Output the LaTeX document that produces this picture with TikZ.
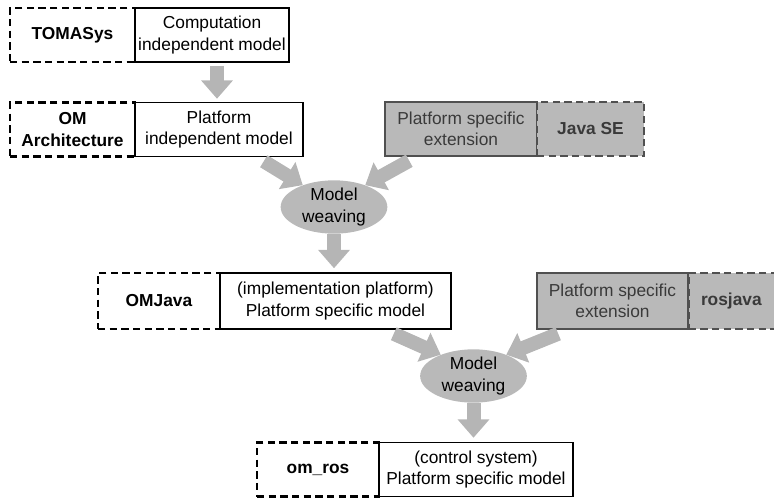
\documentclass[tikz,border=0pt]{standalone}
\usepackage{fontspec}
\setmainfont{Liberation Sans}
\usepackage{xcolor}
\usepackage{tikz}
\usetikzlibrary{calc, arrows.meta, positioning, shapes}

\definecolor{weavegray}{HTML}{B9B9B9}
\definecolor{flowgray}{HTML}{B5B5B5}
\definecolor{edgegray}{HTML}{505050}
\definecolor{textgray}{HTML}{3A3A3A}

\begin{document}
\begin{tikzpicture}[x=0.03cm, y=-0.03cm, font=\fontsize{14.8}{18}\selectfont]
	\tikzstyle{model} = [draw=black, line width=0.045cm, rectangle, fill=white, align=center, minimum height=1.62cm, inner sep=0pt]
	\tikzstyle{tool} = [draw=black, line width=0.08cm, dash pattern=on 0.22cm off 0.13cm, rectangle, align=center, minimum height=1.62cm, inner sep=0pt, font=\fontsize{14.8}{18}\selectfont\bfseries]
	\tikzstyle{ext} = [draw=edgegray, line width=0.045cm, rectangle, fill=weavegray, text=textgray, align=center, minimum height=1.62cm, inner sep=0pt]
	\tikzstyle{exttool} = [tool, fill=weavegray, draw=edgegray, text=textgray]
	\tikzstyle{weave} = [ellipse, fill=weavegray, align=center, minimum width=3.2cm, minimum height=1.6cm, inner sep=0pt]
	\tikzstyle{flow} = [line width=0.42cm, draw=flowgray, -{Triangle[width=0.92cm, length=0.55cm]}]

	\useasboundingbox (0, 0) rectangle (774, 498);

	\node[tool, minimum width=3.75cm]		at (72.5, 35)		(q0)	{TOMASys};
	\node[model, minimum width=4.62cm]		at (212, 35)		(q1)	{Computation\\independent model};
	\node[tool, minimum width=3.75cm]		at (72.5, 129.5)	(q2)	{OM\\Architecture};
	\node[model, minimum width=5.04cm]		at (219, 129.5)		(q3)	{Platform\\independent model};
	\node[ext, minimum width=4.56cm]		at (461, 129)		(q4)	{Platform specific\\extension};
	\node[exttool, minimum width=3.21cm]	at (590.5, 129)		(q5)	{Java SE};
	\node[weave]							at (334, 207)		(q6)	{Model\\weaving};
	\node[tool, minimum width=3.66cm, minimum height=1.68cm]	at (159, 301)	(q7)	{OMJava};
	\node[model, minimum width=6.93cm, minimum height=1.68cm]	at (335.5, 301)	(q8)	{(implementation platform)\\Platform specific model};
	\node[ext, minimum width=4.53cm, minimum height=1.68cm]		at (612.5, 301)	(q9)	{Platform specific\\extension};
	\node[exttool, minimum width=3.3cm, minimum height=1.68cm, text width=2.55cm, align=left]	at (743.5, 301)	(q10)	{rosjava};
	\node[weave]							at (473.5, 376)		(q11)	{Model\\weaving};
	\node[tool, minimum width=3.66cm]		at (318, 469.5)		(q12)	{om\_ros};
	\node[model, minimum width=5.82cm]		at (476, 469.5)		(q13)	{(control system)\\Platform specific model};

	\draw[flow, shorten <=0.09cm, shorten >=0.09cm] (q1.south -| 217, 0) -- (q3.north -| 217, 0);
	\draw[flow] ($(q3.south east)+(-40, 4)$) -- (q6.145);
	\draw[flow] ($(q4.south west)+(25, 4)$) -- (q6.35);
	\draw[flow, shorten >=0.12cm] (q6.south) -- (q6.south |- q8.north);
	\draw[flow] ($(q8.south east)+(-58, 4)$) -- (q11.147);
	\draw[flow] ($(q9.south west)+(22, 4)$) -- (q11.33);
	\draw[flow, shorten >=0.12cm] (q11.south) -- (q11.south |- q13.north);
\end{tikzpicture}
\end{document}
